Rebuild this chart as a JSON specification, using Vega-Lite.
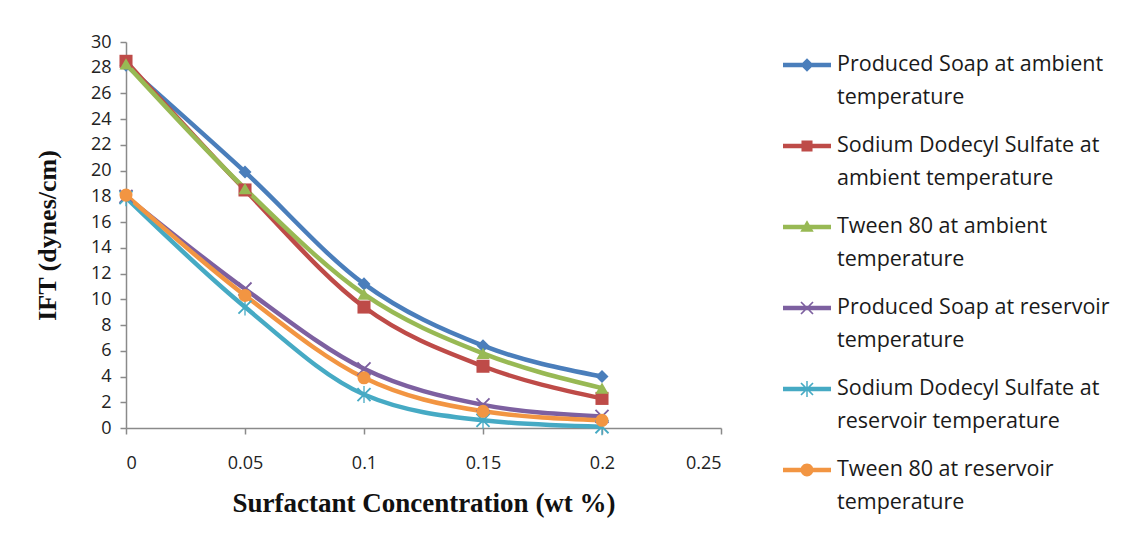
{
  "$schema": "https://vega.github.io/schema/vega-lite/v6.json",
  "width": 595,
  "height": 386,
  "autosize": {"type": "none"},
  "padding": {"left": 126, "top": 42, "right": 405, "bottom": 118},
  "background": "white",
  "config": {"view": {"stroke": null}, "font": "Open Sans"},
  "data": {"values": [
    {"s": "Produced Soap at ambient|temperature", "c": 0, "v": 28.2},
    {"s": "Produced Soap at ambient|temperature", "c": 0.05, "v": 19.9},
    {"s": "Produced Soap at ambient|temperature", "c": 0.1, "v": 11.2},
    {"s": "Produced Soap at ambient|temperature", "c": 0.15, "v": 6.4},
    {"s": "Produced Soap at ambient|temperature", "c": 0.2, "v": 4.0},
    {"s": "Sodium Dodecyl Sulfate at|ambient temperature", "c": 0, "v": 28.5},
    {"s": "Sodium Dodecyl Sulfate at|ambient temperature", "c": 0.05, "v": 18.5},
    {"s": "Sodium Dodecyl Sulfate at|ambient temperature", "c": 0.1, "v": 9.4},
    {"s": "Sodium Dodecyl Sulfate at|ambient temperature", "c": 0.15, "v": 4.8},
    {"s": "Sodium Dodecyl Sulfate at|ambient temperature", "c": 0.2, "v": 2.3},
    {"s": "Tween 80 at ambient|temperature", "c": 0, "v": 28.3},
    {"s": "Tween 80 at ambient|temperature", "c": 0.05, "v": 18.6},
    {"s": "Tween 80 at ambient|temperature", "c": 0.1, "v": 10.4},
    {"s": "Tween 80 at ambient|temperature", "c": 0.15, "v": 5.8},
    {"s": "Tween 80 at ambient|temperature", "c": 0.2, "v": 3.1},
    {"s": "Produced Soap at reservoir|temperature", "c": 0, "v": 18.0},
    {"s": "Produced Soap at reservoir|temperature", "c": 0.05, "v": 10.8},
    {"s": "Produced Soap at reservoir|temperature", "c": 0.1, "v": 4.6},
    {"s": "Produced Soap at reservoir|temperature", "c": 0.15, "v": 1.8},
    {"s": "Produced Soap at reservoir|temperature", "c": 0.2, "v": 0.9},
    {"s": "Sodium Dodecyl Sulfate at|reservoir  temperature", "c": 0, "v": 17.9},
    {"s": "Sodium Dodecyl Sulfate at|reservoir  temperature", "c": 0.05, "v": 9.4},
    {"s": "Sodium Dodecyl Sulfate at|reservoir  temperature", "c": 0.1, "v": 2.6},
    {"s": "Sodium Dodecyl Sulfate at|reservoir  temperature", "c": 0.15, "v": 0.6},
    {"s": "Sodium Dodecyl Sulfate at|reservoir  temperature", "c": 0.2, "v": 0.1},
    {"s": "Tween 80 at reservoir|temperature", "c": 0, "v": 18.1},
    {"s": "Tween 80 at reservoir|temperature", "c": 0.05, "v": 10.3},
    {"s": "Tween 80 at reservoir|temperature", "c": 0.1, "v": 3.9},
    {"s": "Tween 80 at reservoir|temperature", "c": 0.15, "v": 1.3},
    {"s": "Tween 80 at reservoir|temperature", "c": 0.2, "v": 0.6}
  ]},
  "encoding": {
    "x": {"field": "c", "type": "quantitative",
      "scale": {"domain": [0, 0.25], "nice": false, "zero": false},
      "axis": {"title": "Surfactant Concentration (wt %)", "values": [0, 0.05, 0.1, 0.15, 0.2, 0.25], "format": "~g",
        "grid": false, "domainColor": "#8a8a8a", "tickColor": "#8a8a8a", "tickSize": 6, "domainWidth": 1.5, "tickWidth": 1.5,
        "labelFont": "Open Sans", "labelFontSize": 18, "labelColor": "#222222", "labelPadding": 20,
        "titleFont": "Liberation Serif", "titleFontWeight": "bold", "titleFontSize": 27, "titleColor": "#111111", "titlePadding": 18}},
    "y": {"field": "v", "type": "quantitative",
      "scale": {"domain": [0, 30], "nice": false},
      "axis": {"title": "IFT (dynes/cm)", "values": [0, 2, 4, 6, 8, 10, 12, 14, 16, 18, 20, 22, 24, 26, 28, 30],
        "grid": false, "domainColor": "#8a8a8a", "tickColor": "#8a8a8a", "tickSize": 6, "domainWidth": 1.5, "tickWidth": 1.5,
        "labelFont": "Open Sans", "labelFontSize": 18, "labelColor": "#222222", "labelPadding": 9,
        "titleFont": "Liberation Serif", "titleFontWeight": "bold", "titleFontSize": 26, "titleColor": "#111111", "titlePadding": 30}}
  },
  "layer": [
    {
      "mark": {"type": "line", "interpolate": "monotone", "strokeWidth": 4.5},
      "encoding": {
        "color": {"field": "s", "type": "nominal", "legend": null,
          "scale": {"domain": ["Produced Soap at ambient|temperature", "Sodium Dodecyl Sulfate at|ambient temperature", "Tween 80 at ambient|temperature", "Produced Soap at reservoir|temperature", "Sodium Dodecyl Sulfate at|reservoir  temperature", "Tween 80 at reservoir|temperature"],
            "range": ["#4a7ebb", "#be4b48", "#98b954", "#7d60a0", "#46aac4", "#f29542"]}}
      }
    },
    {
      "mark": {"type": "point", "filled": true, "size": 170, "strokeWidth": 0, "opacity": 1},
      "encoding": {
        "color": {"field": "s", "type": "nominal", "legend": null,
          "scale": {"domain": ["Produced Soap at ambient|temperature", "Sodium Dodecyl Sulfate at|ambient temperature", "Tween 80 at ambient|temperature", "Produced Soap at reservoir|temperature", "Sodium Dodecyl Sulfate at|reservoir  temperature", "Tween 80 at reservoir|temperature"],
            "range": ["#4a7ebb", "#be4b48", "#98b954", "#7d60a0", "#46aac4", "#f29542"]}},
        "shape": {"field": "s", "type": "nominal", "legend": null,
          "scale": {"domain": ["Produced Soap at ambient|temperature", "Sodium Dodecyl Sulfate at|ambient temperature", "Tween 80 at ambient|temperature", "Produced Soap at reservoir|temperature", "Sodium Dodecyl Sulfate at|reservoir  temperature", "Tween 80 at reservoir|temperature"],
            "range": ["diamond", "square", "triangle-up", "M-1.1,-0.9L-0.9,-1.1L1.1,0.9L0.9,1.1Z M0.9,-1.1L1.1,-0.9L-0.9,1.1L-1.1,0.9Z", "M-1.1,-0.9L-0.9,-1.1L1.1,0.9L0.9,1.1Z M0.9,-1.1L1.1,-0.9L-0.9,1.1L-1.1,0.9Z M-0.1,-1.3L0.1,-1.3L0.1,1.3L-0.1,1.3Z", "circle"]}}
      }
    },
    {
      "mark": {"type": "point", "filled": true, "size": 0, "strokeWidth": 0, "opacity": 1},
      "encoding": {
        "color": {"field": "s", "type": "nominal",
          "scale": {"domain": ["Produced Soap at ambient|temperature", "Sodium Dodecyl Sulfate at|ambient temperature", "Tween 80 at ambient|temperature", "Produced Soap at reservoir|temperature", "Sodium Dodecyl Sulfate at|reservoir  temperature", "Tween 80 at reservoir|temperature"],
            "range": ["#4a7ebb", "#be4b48", "#98b954", "#7d60a0", "#46aac4", "#f29542"]},
          "legend": {"title": null, "orient": "none", "legendX": 657, "legendY": -1, "padding": 0,
            "symbolSize": 2304, "symbolStrokeWidth": 0, "symbolOpacity": 1,
            "labelExpr": "split(datum.label, '|')", "labelFont": "Open Sans", "labelFontSize": 21.5, "labelColor": "#1a1a1a", "labelLimit": 500,
            "labelOffset": 6, "rowPadding": 13,
            "encode": {"labels": {"update": {"lineHeight": {"value": 33}}}}}},
        "shape": {"field": "s", "type": "nominal",
          "scale": {"domain": ["Produced Soap at ambient|temperature", "Sodium Dodecyl Sulfate at|ambient temperature", "Tween 80 at ambient|temperature", "Produced Soap at reservoir|temperature", "Sodium Dodecyl Sulfate at|reservoir  temperature", "Tween 80 at reservoir|temperature"],
            "range": [
              "M-1,-0.094L1,-0.094L1,0.094L-1,0.094Z M-0.28,0L0,-0.28L0.28,0L0,0.28Z",
              "M-1,-0.094L1,-0.094L1,0.094L-1,0.094Z M-0.23,-0.23L0.23,-0.23L0.23,0.23L-0.23,0.23Z",
              "M-1,-0.094L1,-0.094L1,0.094L-1,0.094Z M0,-0.28L0.28,0.2L-0.28,0.2Z",
              "M-1,-0.094L1,-0.094L1,0.094L-1,0.094Z M-0.275,-0.225L-0.225,-0.275L0.275,0.225L0.225,0.275Z M0.225,-0.275L0.275,-0.225L-0.225,0.275L-0.275,0.225Z",
              "M-1,-0.094L1,-0.094L1,0.094L-1,0.094Z M-0.275,-0.225L-0.225,-0.275L0.275,0.225L0.225,0.275Z M0.225,-0.275L0.275,-0.225L-0.225,0.275L-0.275,0.225Z M-0.03,-0.33L0.03,-0.33L0.03,0.33L-0.03,0.33Z",
              "M-1,-0.094L1,-0.094L1,0.094L-1,0.094Z M-0.27,0A0.27,0.27 0 1,1 0.27,0A0.27,0.27 0 1,1 -0.27,0Z"]}}
      }
    }
  ],
  "resolve": {"scale": {"color": "independent", "shape": "independent"}}
}
